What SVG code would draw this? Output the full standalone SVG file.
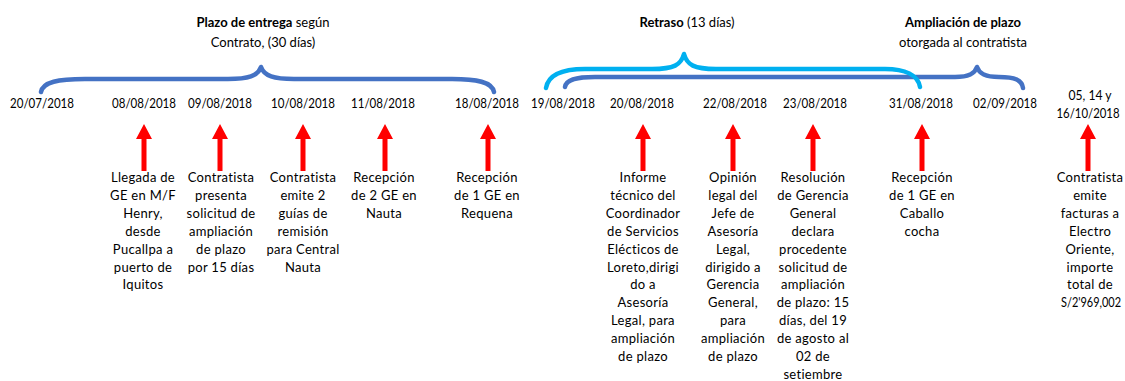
<svg xmlns="http://www.w3.org/2000/svg" xmlns:xlink="http://www.w3.org/1999/xlink" width="1125" height="381" viewBox="0 0 1125 381">
<style>
text{font-family:Lato,"Liberation Sans",sans-serif;fill:#000;text-anchor:middle}
.d{font-size:13px}
.t{font-size:13px}
.t tspan.b{font-weight:bold}
.x{font-size:13px;letter-spacing:0.3px}
.brace{fill:none;stroke-width:4.5;stroke-linecap:round;stroke-linejoin:round}
.dk{stroke:#4472C4}
.lt{stroke:#00B0F0}
</style>
<defs>
<path id="arr" d="M-2.5,171 L-2.5,139 L-8,139 L0,124 L8,139 L2.5,139 L2.5,171 Z" fill="#FF0000"/>
</defs>
<rect width="1125" height="381" fill="#fff"/>
<g id="connectors">
<path class="brace dk" d="M41,92 C43,82 58,79 85,79 L228,79 C248,79 258,76 261,67 C264,76 274,79 294,79 L452,79 C477,79 492,82 494,92"/>
<path class="brace dk" d="M565,87 C566,80 575,77 595,77 L955,77 C970,77 975,73 977,67 C979,73 984,77 999,77 C1015,77 1022,80 1023,88"/>
<path class="brace lt" d="M546,88 C548,76 560,69 585,69 L652,69 C674,69 681,65 684,54 C687,65 694,69 716,69 L885,69 C905,69 918,75 920,87"/>
<use xlink:href="#arr" x="144"/>
<use xlink:href="#arr" x="220"/>
<use xlink:href="#arr" x="303"/>
<use xlink:href="#arr" x="385"/>
<use xlink:href="#arr" x="488"/>
<use xlink:href="#arr" x="643"/>
<use xlink:href="#arr" x="733"/>
<use xlink:href="#arr" x="813"/>
<use xlink:href="#arr" x="922"/>
<use xlink:href="#arr" x="1088"/>
</g>
<g id="label-plazo"><text class="t" x="263" y="27"><tspan class="b">Plazo de entrega</tspan> según</text><text class="t" x="263" y="47">Contrato, (30 días)</text></g>
<g id="label-retraso"><text class="t" x="687" y="27"><tspan class="b">Retraso</tspan> (13 días)</text></g>
<g id="label-ampliacion"><text class="t" x="963" y="27"><tspan class="b">Ampliación de plazo</tspan></text><text class="t" x="963" y="47">otorgada al contratista</text></g>
<g id="dates">
<text class="d" x="42" y="108" textLength="64" lengthAdjust="spacingAndGlyphs">20/07/2018</text>
<text class="d" x="144" y="108" textLength="64" lengthAdjust="spacingAndGlyphs">08/08/2018</text>
<text class="d" x="220" y="108" textLength="64" lengthAdjust="spacingAndGlyphs">09/08/2018</text>
<text class="d" x="303" y="108" textLength="64" lengthAdjust="spacingAndGlyphs">10/08/2018</text>
<text class="d" x="383" y="108" textLength="64" lengthAdjust="spacingAndGlyphs">11/08/2018</text>
<text class="d" x="487" y="108" textLength="64" lengthAdjust="spacingAndGlyphs">18/08/2018</text>
<text class="d" x="563" y="108" textLength="64" lengthAdjust="spacingAndGlyphs">19/08/2018</text>
<text class="d" x="642" y="108" textLength="64" lengthAdjust="spacingAndGlyphs">20/08/2018</text>
<text class="d" x="735" y="108" textLength="64" lengthAdjust="spacingAndGlyphs">22/08/2018</text>
<text class="d" x="815" y="108" textLength="64" lengthAdjust="spacingAndGlyphs">23/08/2018</text>
<text class="d" x="921" y="108" textLength="64" lengthAdjust="spacingAndGlyphs">31/08/2018</text>
<text class="d" x="1005" y="108" textLength="64" lengthAdjust="spacingAndGlyphs">02/09/2018</text>
<text class="d" x="1090" y="100" textLength="43" lengthAdjust="spacingAndGlyphs">05, 14 y</text>
<text class="d" x="1088" y="118" textLength="63" lengthAdjust="spacingAndGlyphs">16/10/2018</text>
</g>
<g id="ev1"><text class="x" x="143" y="182">Llegada de<tspan x="143" dy="17.9">GE en M/F</tspan><tspan x="143" dy="17.9">Henry,</tspan><tspan x="143" dy="17.9">desde</tspan><tspan x="143" dy="17.9">Pucallpa a</tspan><tspan x="143" dy="17.9">puerto de</tspan><tspan x="143" dy="17.9">Iquitos</tspan></text></g>
<g id="ev2"><text class="x" x="221" y="182">Contratista<tspan x="221" dy="17.9">presenta</tspan><tspan x="221" dy="17.9">solicitud de</tspan><tspan x="221" dy="17.9">ampliación</tspan><tspan x="221" dy="17.9">de plazo</tspan><tspan x="221" dy="17.9">por 15 días</tspan></text></g>
<g id="ev3"><text class="x" x="303" y="182">Contratista<tspan x="303" dy="17.9">emite 2</tspan><tspan x="303" dy="17.9">guías de</tspan><tspan x="303" dy="17.9">remisión</tspan><tspan x="303" dy="17.9">para Central</tspan><tspan x="303" dy="17.9">Nauta</tspan></text></g>
<g id="ev4"><text class="x" x="384" y="182">Recepción<tspan x="384" dy="17.9">de 2 GE en</tspan><tspan x="384" dy="17.9">Nauta</tspan></text></g>
<g id="ev5"><text class="x" x="487" y="182">Recepción<tspan x="487" dy="17.9">de 1 GE en</tspan><tspan x="487" dy="17.9">Requena</tspan></text></g>
<g id="ev6"><text class="x" x="643" y="182">Informe<tspan x="643" dy="17.9">técnico del</tspan><tspan x="643" dy="17.9">Coordinador</tspan><tspan x="643" dy="17.9">de Servicios</tspan><tspan x="643" dy="17.9">Elécticos de</tspan><tspan x="643" dy="17.9">Loreto,dirigi</tspan><tspan x="643" dy="17.9">do a</tspan><tspan x="643" dy="17.9">Asesoría</tspan><tspan x="643" dy="17.9">Legal, para</tspan><tspan x="643" dy="17.9">ampliación</tspan><tspan x="643" dy="17.9">de plazo</tspan></text></g>
<g id="ev7"><text class="x" x="733" y="182">Opinión<tspan x="733" dy="17.9">legal del</tspan><tspan x="733" dy="17.9">Jefe de</tspan><tspan x="733" dy="17.9">Asesoría</tspan><tspan x="733" dy="17.9">Legal,</tspan><tspan x="733" dy="17.9">dirigido a</tspan><tspan x="733" dy="17.9">Gerencia</tspan><tspan x="733" dy="17.9">General,</tspan><tspan x="733" dy="17.9">para</tspan><tspan x="733" dy="17.9">ampliación</tspan><tspan x="733" dy="17.9">de plazo</tspan></text></g>
<g id="ev8"><text class="x" x="813" y="182">Resolución<tspan x="813" dy="17.9">de Gerencia</tspan><tspan x="813" dy="17.9">General</tspan><tspan x="813" dy="17.9">declara</tspan><tspan x="813" dy="17.9">procedente</tspan><tspan x="813" dy="17.9">solicitud de</tspan><tspan x="813" dy="17.9">ampliación</tspan><tspan x="813" dy="17.9">de plazo: 15</tspan><tspan x="813" dy="17.9">días, del 19</tspan><tspan x="813" dy="17.9">de agosto al</tspan><tspan x="813" dy="17.9">02 de</tspan><tspan x="813" dy="17.9">setiembre</tspan></text></g>
<g id="ev9"><text class="x" x="922" y="182">Recepción<tspan x="922" dy="17.9">de 1 GE en</tspan><tspan x="922" dy="17.9">Caballo</tspan><tspan x="922" dy="17.9">cocha</tspan></text></g>
<g id="ev10"><text class="x" x="1090" y="182">Contratista<tspan x="1090" dy="17.9">emite</tspan><tspan x="1090" dy="17.9">facturas a</tspan><tspan x="1090" dy="17.9">Electro</tspan><tspan x="1090" dy="17.9">Oriente,</tspan><tspan x="1090" dy="17.9">importe</tspan><tspan x="1090" dy="17.9">total de</tspan></text><text class="d" x="1091" y="307.3" textLength="60" lengthAdjust="spacingAndGlyphs">S/2'969,002</text></g>
</svg>
